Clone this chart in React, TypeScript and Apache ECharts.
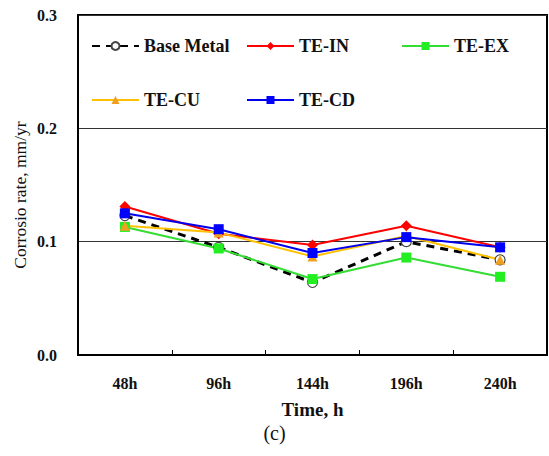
import React, { useEffect, useRef } from "react";
import * as echarts from "echarts";

const categories = ["48h", "96h", "144h", "196h", "240h"];
const baseMetal = [0.123, 0.095, 0.064, 0.1, 0.084];
const teIN = [0.131, 0.107, 0.097, 0.114, 0.095];
const teEX = [0.113, 0.094, 0.067, 0.086, 0.069];
const teCU = [0.114, 0.108, 0.087, 0.105, 0.084];
const teCD = [0.125, 0.111, 0.09, 0.104, 0.095];
const yTicks = [0, 0.1, 0.2, 0.3];

const FONT = "'Liberation Serif', 'Times New Roman', serif";

export default function App() {
  const ref = useRef<HTMLDivElement>(null);
  useEffect(() => {
    document.body.style.margin = "0";
    const chart = echarts.init(ref.current!, undefined, { renderer: "svg" });
    const legendText = { fontFamily: FONT, fontWeight: "bold", fontSize: 18, color: "#111" };
    const legendCommon = {
      orient: "vertical",
      itemWidth: 47,
      itemHeight: 10,
      itemGap: 36,
      textStyle: legendText,
      selectedMode: false,
    };
    chart.setOption({
      animation: false,
      backgroundColor: "#fff",
      grid: {
        left: 78,
        top: 15,
        right: 2,
        bottom: 101,
        show: true,
        borderColor: "#000",
        borderWidth: 2,
        backgroundColor: "transparent",
      },
      legend: [
        { ...legendCommon, left: 86, top: 32, data: ["Base Metal", "TE-CU"] },
        { ...legendCommon, left: 241, top: 32, data: ["TE-IN", "TE-CD"] },
        { ...legendCommon, left: 396, top: 32, data: ["TE-EX"] },
      ],
      xAxis: {
        type: "category",
        data: categories,
        boundaryGap: true,
        axisLine: { lineStyle: { color: "#000", width: 2 } },
        axisTick: { show: true, inside: true, length: 5, lineStyle: { color: "#000" } },
        axisLabel: { fontFamily: FONT, fontWeight: "bold", fontSize: 16, color: "#111", margin: 20 },
        name: "Time, h",
        nameLocation: "middle",
        nameGap: 45,
        nameTextStyle: { fontFamily: FONT, fontWeight: "bold", fontSize: 19, color: "#111" },
      },
      yAxis: {
        type: "value",
        min: yTicks[0],
        max: yTicks[yTicks.length - 1],
        interval: 0.1,
        axisLine: { show: true, lineStyle: { color: "#000", width: 2 } },
        axisTick: { show: false },
        splitLine: { show: true, lineStyle: { color: "#333", width: 1 } },
        axisLabel: {
          fontFamily: FONT,
          fontWeight: "bold",
          fontSize: 16,
          color: "#111",
          margin: 21,
          formatter: (v: number) => v.toFixed(1),
        },
      },
      graphic: [
        {
          type: "text",
          left: "center",
          top: 423,
          style: { text: "(c)", fontFamily: FONT, fontSize: 20, fill: "#111" },
        },
        {
          type: "text",
          x: 20,
          y: 195,
          rotation: Math.PI / 2,
          style: {
            text: "Corrosio rate, mm/yr",
            fontFamily: FONT,
            fontSize: 17.5,
            fill: "#111",
            align: "center",
            verticalAlign: "middle",
          },
          originX: 0,
          originY: 0,
        },
      ],
      series: [
        {
          name: "Base Metal",
          type: "line",
          data: baseMetal,
          symbol: "circle",
          symbolSize: 10,
          lineStyle: { color: "#000", width: 3, type: [8, 6] },
          itemStyle: { color: "#fff", borderColor: "#444", borderWidth: 1.2 },
        },
        {
          name: "TE-IN",
          type: "line",
          data: teIN,
          symbol: "diamond",
          symbolSize: 11,
          lineStyle: { color: "#ff0000", width: 2 },
          itemStyle: { color: "#ff0000" },
        },
        {
          name: "TE-EX",
          type: "line",
          data: teEX,
          symbol: "rect",
          symbolSize: 10,
          lineStyle: { color: "#33dd33", width: 2 },
          itemStyle: { color: "#22ee22" },
        },
        {
          name: "TE-CU",
          type: "line",
          data: teCU,
          symbol: "triangle",
          symbolSize: 10,
          lineStyle: { color: "#ffc000", width: 2 },
          itemStyle: { color: "#f0a020" },
        },
        {
          name: "TE-CD",
          type: "line",
          data: teCD,
          symbol: "rect",
          symbolSize: 10,
          lineStyle: { color: "#0000ee", width: 2 },
          itemStyle: { color: "#0000ff" },
        },
      ],
    });
    return () => chart.dispose();
  }, []);
  return <div ref={ref} style={{ width: 549, height: 456 }} />;
}
